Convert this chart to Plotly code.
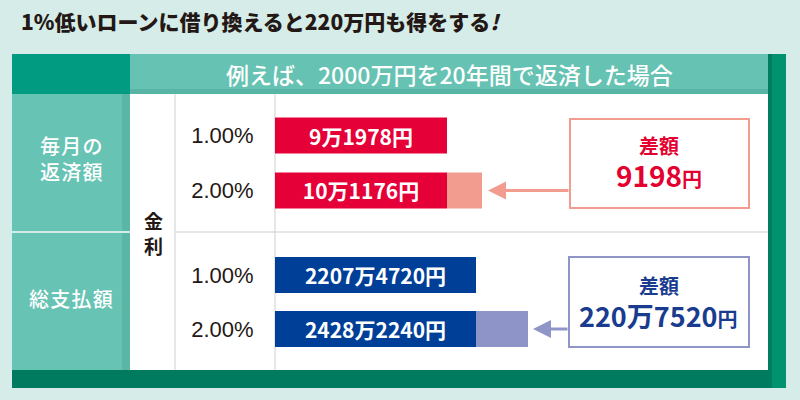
import plotly.graph_objects as go

# ---- data ----
rates = ["1.00%", "2.00%"]
monthly = [91978, 101176]        # 毎月の返済額 (円)
total = [22074720, 24282240]     # 総支払額 (円)

title = "1%低いローンに借り換えると220万円も得をする<i>!</i>"
header = "例えば、2000万円を20年間で返済した場合"
row_labels = ["毎\u200a月\u200aの<br>返\u200a済\u200a額", "総\u200a支\u200a払\u200a額"]
rate_label = "金<br>利"
diff_label = "差額"

# ---- styling ----
W, H = 800, 400
JP = "Noto Sans CJK JP"
LAT = "Liberation Sans, Arial, sans-serif"
BG = "#d6ece8"
RED, PINK, RED_TXT, PINK_LINE = "#e50038", "#f29c8f", "#e4002f", "#f19c8e"
BLUE, LBLUE, BLUE_TXT, LBLUE_LINE = "#003f98", "#8e94c8", "#1a3c8f", "#9095c8"
DARK = "#231815"

BAR_X0, PLOT_X1 = 275, 768


def px(x):
    return x / W


def py(y):
    return 1 - y / H


def fmt(v):
    m, r = divmod(int(v), 10000)
    return (f"{m}万" if m else "") + (f"{r}" if r else "") + "円"


def axis_range(va, vb, pa, pb):
    s = (pb - pa) / (vb - va)
    lo = va - (pa - BAR_X0) / s
    hi = lo + (PLOT_X1 - BAR_X0) / s
    return lo, hi


red_lo, red_hi = axis_range(monthly[0], monthly[1], 447, 482)
blue_lo, blue_hi = axis_range(total[0], total[1], 476, 528)

fig = go.Figure()

bar_text_font = dict(color="white", size=21, family=JP, weight=700)

# red group
fig.add_trace(go.Bar(
    y=rates, x=[monthly[0] - red_lo] * 2, base=red_lo, orientation="h",
    marker=dict(color=RED, line=dict(width=0)), width=0.655,
    text=[fmt(v) for v in monthly], textposition="inside",
    insidetextanchor="middle", textangle=0, textfont=bar_text_font,
    xaxis="x", yaxis="y", hoverinfo="skip"))
fig.add_trace(go.Bar(
    y=[rates[1]], x=[monthly[1] - monthly[0]], base=[monthly[0]], orientation="h",
    marker=dict(color=PINK, line=dict(width=0)), width=0.655,
    xaxis="x", yaxis="y", hoverinfo="skip"))

# blue group
fig.add_trace(go.Bar(
    y=rates, x=[total[0] - blue_lo] * 2, base=blue_lo, orientation="h",
    marker=dict(color=BLUE, line=dict(width=0)), width=0.667,
    text=[fmt(v) for v in total], textposition="inside",
    insidetextanchor="middle", textangle=0, textfont=bar_text_font,
    xaxis="x2", yaxis="y2", hoverinfo="skip"))
fig.add_trace(go.Bar(
    y=[rates[1]], x=[total[1] - total[0]], base=[total[0]], orientation="h",
    marker=dict(color=LBLUE, line=dict(width=0)), width=0.667,
    xaxis="x2", yaxis="y2", hoverinfo="skip"))

xdom = [px(BAR_X0), px(PLOT_X1)]
yax_common = dict(type="category", categoryorder="array", categoryarray=rates,
                  showgrid=False, zeroline=False, showline=False,
                  ticks="outside", ticklen=16, tickcolor="rgba(0,0,0,0)",
                  tickfont=dict(family=LAT, size=22, color=DARK), fixedrange=True)
xax_common = dict(visible=False, showgrid=False, zeroline=False, fixedrange=True)

fig.update_layout(
    width=W, height=H, margin=dict(l=0, r=0, t=0, b=0),
    paper_bgcolor=BG, plot_bgcolor="rgba(0,0,0,0)",
    showlegend=False, barmode="overlay",
    xaxis=dict(domain=xdom, range=[red_lo, red_hi], anchor="y", **xax_common),
    xaxis2=dict(domain=xdom, range=[blue_lo, blue_hi], anchor="y2", **xax_common),
    yaxis=dict(domain=[py(232), py(94)], range=[1.755, -0.755], anchor="x", **yax_common),
    yaxis2=dict(domain=[py(370), py(232)], range=[1.759, -0.796], anchor="x2", **yax_common),
)


def rect(x0, y0, x1, y1, fill, line=None, lw=0, layer="below"):
    return dict(type="rect", xref="paper", yref="paper",
                x0=px(x0), x1=px(x1), y0=py(y1), y1=py(y0),
                fillcolor=fill, line=dict(color=line or fill, width=lw), layer=layer)


def hline(x0, x1, y, color, w=1):
    return dict(type="line", xref="paper", yref="paper", x0=px(x0), x1=px(x1),
                y0=py(y), y1=py(y), line=dict(color=color, width=w), layer="below")


def vline(x, y0, y1, color, w=1):
    return dict(type="line", xref="paper", yref="paper", x0=px(x), x1=px(x),
                y0=py(y0), y1=py(y1), line=dict(color=color, width=w), layer="below")


shapes = [
    rect(12, 370, 786, 388, "#007b60"),
    rect(768, 54, 786, 388, "#00916f"),
    rect(768, 54, 772, 388, "#007d61"),
    rect(12, 54, 130, 94, "#009b80"),
    rect(130, 54, 768, 94, "#66c2b2"),
    rect(130, 89, 768, 94, "#58b4a4"),
    rect(12, 94, 130, 370, "#67c3b3"),
    rect(122, 94, 130, 370, "#5cb6a6"),
    hline(12, 130, 232, "#d2ece6", 2),
    rect(130, 94, 768, 370, "white"),
    vline(175, 94, 370, "#cfcfcf"),
    vline(275, 94, 370, "#cfcfcf"),
    hline(175, 768, 232, "#cfcfcf"),
    rect(570, 119, 749, 208, "white", PINK_LINE, 2),
    rect(569, 257, 749, 347, "white", LBLUE_LINE, 2),
]
fig.update_layout(shapes=shapes)


def ann(text, x, y, size, color, family=JP, weight="normal", xanchor="center"):
    return dict(text=text, x=px(x), y=py(y), xref="paper", yref="paper",
                showarrow=False, xanchor=xanchor, yanchor="middle",
                font=dict(family=family, size=size, color=color, weight=weight))


def diff_text(d, big, small):
    s = fmt(d)
    return f"<span style='font-size:{big}px'>{s[:-1]}</span><span style='font-size:{small}px'>円</span>"


annotations = [
    ann(title, 19, 21, 21, DARK, weight=900, xanchor="left"),
    ann(header, 449, 74, 23, "white", weight=500),
    ann(row_labels[0], 71, 158, 20, "white", weight=500),
    ann(row_labels[1], 71, 298, 20, "white", weight=500),
    ann(rate_label, 153, 233, 19, DARK, weight=700),
    ann(diff_label, 659, 145, 20, RED_TXT, weight=700),
    ann(diff_text(monthly[1] - monthly[0], 28, 20), 659, 175, 28, RED_TXT, weight=700),
    ann(diff_label, 659, 285, 20, BLUE_TXT, weight=700),
    ann(diff_text(total[1] - total[0], 27, 20), 658, 315, 27, BLUE_TXT, weight=700),
    # arrows pointing at the difference segments
    dict(x=monthly[1], y=rates[1], xref="x", yref="y", ax=88, ay=0, text="",
         showarrow=True, arrowhead=2, arrowwidth=3, arrowsize=1.2,
         arrowcolor=PINK_LINE, standoff=6),
    dict(x=total[1], y=rates[1], xref="x2", yref="y2", ax=41, ay=0, text="",
         showarrow=True, arrowhead=2, arrowwidth=3, arrowsize=1.2,
         arrowcolor=LBLUE_LINE, standoff=5),
]
fig.update_layout(annotations=annotations)

fig.write_html("out.html")
